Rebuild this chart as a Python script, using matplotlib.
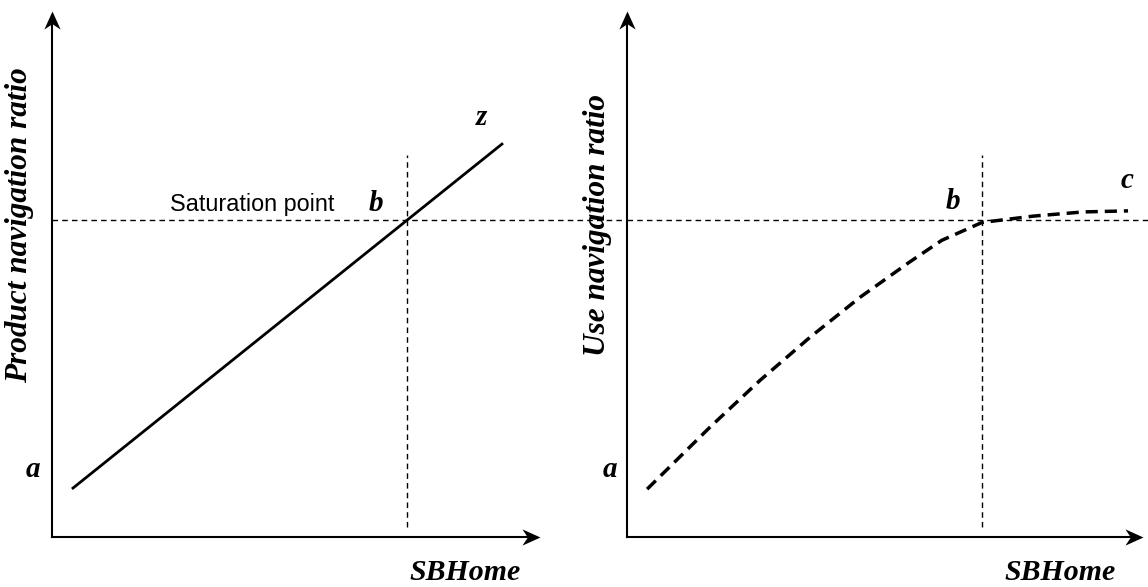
import numpy as np
import matplotlib
matplotlib.use('Agg')
import matplotlib.pyplot as plt
from matplotlib.path import Path

# 数据（单位：每个面板 0..100）
# 左图：产品导航比率随 SBHome 线性增长
prod_x = [4.3, 92.2]
prod_y = [9.3, 74.7]
# 右图：使用导航比率在饱和点后趋平
use_x = [3.9, 16.1, 25.8, 35.5, 45.2, 54.8, 61.0, 68.8, 78.7, 88.4, 97.1]
use_y = [9.1, 20.9, 29.8, 38.0, 45.6, 52.3, 56.4, 59.8, 61.0, 61.8, 62.0]
# 饱和点
sat_y = 60.3
sat_x_left = 72.7
sat_x_right = 68.8

serif = dict(family='Liberation Serif', weight='bold', style='italic')

# 带凹口的箭头
head_right = Path([(0, 0), (-1, 0.45), (-0.7, 0), (-1, -0.45), (0, 0)],
                  [Path.MOVETO, Path.LINETO, Path.LINETO, Path.LINETO, Path.CLOSEPOLY])
head_up = Path([(0, 0), (0.45, -1), (0, -0.7), (-0.45, -1), (0, 0)],
               [Path.MOVETO, Path.LINETO, Path.LINETO, Path.LINETO, Path.CLOSEPOLY])

fig = plt.figure(figsize=(11.48, 5.87), dpi=100)
W, H = 1148, 587
ax1 = fig.add_axes([52 / W, (H - 537) / H, 488 / W, 526 / H])
ax2 = fig.add_axes([627 / W, (H - 537) / H, 516 / W, 526 / H])

for ax in (ax1, ax2):
    ax.set_xlim(0, 100)
    ax.set_ylim(0, 100)
    ax.axis('off')
    # 坐标轴和箭头
    ax.plot([0, 0], [0, 99], color='black', lw=1.5, clip_on=False)
    ax.plot([0, 99], [0, 0], color='black', lw=1.5, clip_on=False)
    ax.plot([0], [100], marker=head_up, ms=26, color='black', mew=0, clip_on=False)
    ax.plot([100], [0], marker=head_right, ms=26, color='black', mew=0, clip_on=False)

# 左图
ax1.plot(prod_x, prod_y, color='black', lw=2)
ax1.plot([0, 117.4], [sat_y, sat_y], color='black', lw=1, ls=(0, (4, 3)),
         clip_on=False)
ax1.plot([sat_x_left, sat_x_left], [1.9, 72.6], color='black', lw=1,
         ls=(0, (4, 3)))
ax1.text(41.0, 62.0, 'Saturation point', family='Liberation Sans',
         fontsize=16.8, ha='center', va='baseline')
ax1.text(66.4, 62.0, 'b', fontsize=21, ha='center', va='baseline', **serif)
ax1.text(88.1, 78.3, 'z', fontsize=21, ha='center', va='baseline', **serif)
ax1.text(-3.9, 11.4, 'a', fontsize=21, ha='center', va='baseline', **serif)
ax1.text(-0.0656, 0.593, 'Product navigation ratio', transform=ax1.transAxes,
         rotation=90, fontsize=22.5, ha='center', va='center', **serif)
ax1.text(0.846, -0.082, 'SBHome', transform=ax1.transAxes, fontsize=21.5,
         ha='center', va='baseline', **serif)

# 右图
ax2.plot(use_x, use_y, color='black', lw=2.5, ls=(0, (3.5, 2)))
ax2.plot([0, 101], [sat_y, sat_y], color='black', lw=1, ls=(0, (4, 3)),
         clip_on=False)
ax2.plot([sat_x_right, sat_x_right], [1.9, 72.6], color='black', lw=1,
         ls=(0, (4, 3)))
ax2.text(63.2, 62.4, 'b', fontsize=21, ha='center', va='baseline', **serif)
ax2.text(96.9, 66.3, 'c', fontsize=21, ha='center', va='baseline', **serif)
ax2.text(-3.3, 11.4, 'a', fontsize=21, ha='center', va='baseline', **serif)
ax2.text(-0.058, 0.593, 'Use navigation ratio', transform=ax2.transAxes,
         rotation=90, fontsize=22.5, ha='center', va='center', **serif)
ax2.text(0.839, -0.082, 'SBHome', transform=ax2.transAxes, fontsize=21.5,
         ha='center', va='baseline', **serif)

fig.savefig('out.png', dpi=100)
